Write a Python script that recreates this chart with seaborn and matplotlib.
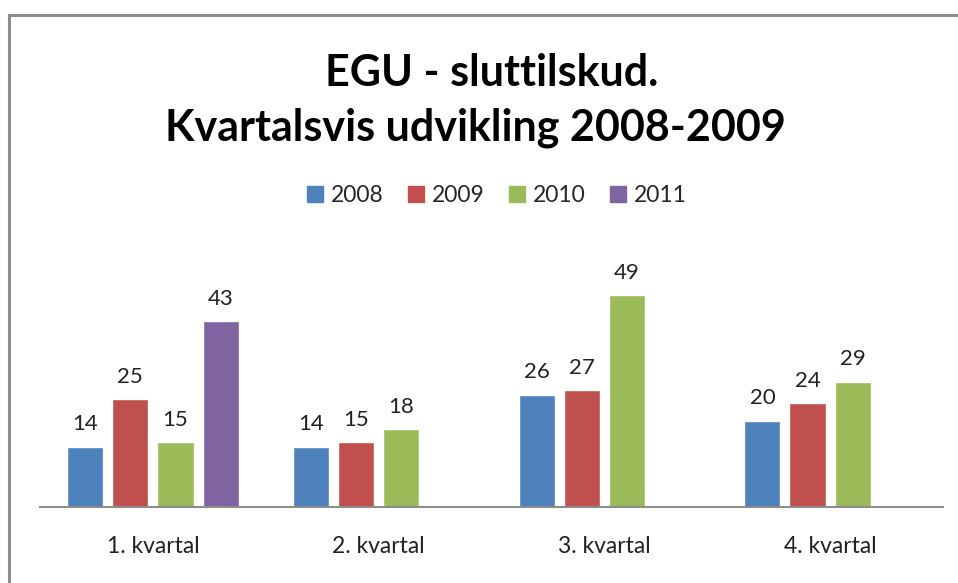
import numpy as np
import pandas as pd
import matplotlib
matplotlib.use("Agg")
import matplotlib.pyplot as plt
from matplotlib.lines import Line2D
import seaborn as sns

quarters = ["1. kvartal", "2. kvartal", "3. kvartal", "4. kvartal"]
years = ["2008", "2009", "2010", "2011"]
v2008 = [14, 14, 26, 20]
v2009 = [25, 15, 27, 24]
v2010 = [15, 18, 49, 29]
v2011 = [43, np.nan, np.nan, np.nan]
colors = ["#4F81BD", "#C0504D", "#9BBB59", "#8064A2"]

rows = []
for year, vals in zip(years, [v2008, v2009, v2010, v2011]):
    for q, v in zip(quarters, vals):
        rows.append({"kvartal": q, "aar": year, "antal": v})
df = pd.DataFrame(rows)

sns.set_style("white")
plt.rcParams["font.family"] = ["Lato", "DejaVu Sans"]

fig = plt.figure(figsize=(9.58, 5.83), dpi=100)
ax = fig.add_axes([40 / 958, 0.130, 903 / 958, 0.412])

sns.barplot(data=df, x="kvartal", y="antal", hue="aar", hue_order=years,
            order=quarters, palette=colors, width=0.8, gap=0.2,
            saturation=1, legend=False, ax=ax)

for cont in ax.containers:
    ax.bar_label(cont, fmt="%.0f", padding=9, fontsize=16, color="#222222")

ax.set_ylim(0, 55.5)
ax.set_xlim(-0.5, 3.5)
ax.set_xlabel("")
ax.set_ylabel("")
ax.set_yticks([])
ax.tick_params(axis="x", length=0, pad=21, labelsize=16.5, labelcolor="#222222")
sns.despine(ax=ax, left=True)
ax.spines["bottom"].set_color("#8c8c8c")
ax.spines["bottom"].set_linewidth(1.5)

fig.text(0.513, 1 - 73 / 583, "EGU - sluttilskud.", ha="center", va="center",
         fontsize=31, fontweight="bold", color="#000000")
fig.text(0.496, 1 - 128 / 583, "Kvartalsvis udvikling 2008-2009", ha="center",
         va="center", fontsize=31, fontweight="bold", color="#000000")

handles = [Line2D([], [], marker="s", linestyle="", markersize=11,
                  markerfacecolor=c, markeredgecolor=c) for c in colors]
fig.legend(handles, years, loc="center", bbox_to_anchor=(0.518, 1 - 196 / 583),
           ncol=4, frameon=False, fontsize=16.5, handlelength=0.8,
           handletextpad=0.3, columnspacing=1.0)

# chart border
fig.add_artist(Line2D([9 / 958, 1], [1 - 15 / 583, 1 - 15 / 583],
                      transform=fig.transFigure, color="#8c8c8c", lw=2.2))
fig.add_artist(Line2D([9 / 958, 9 / 958], [0, 1 - 15 / 583],
                      transform=fig.transFigure, color="#8c8c8c", lw=2.2))

fig.savefig("out.png", dpi=100)
